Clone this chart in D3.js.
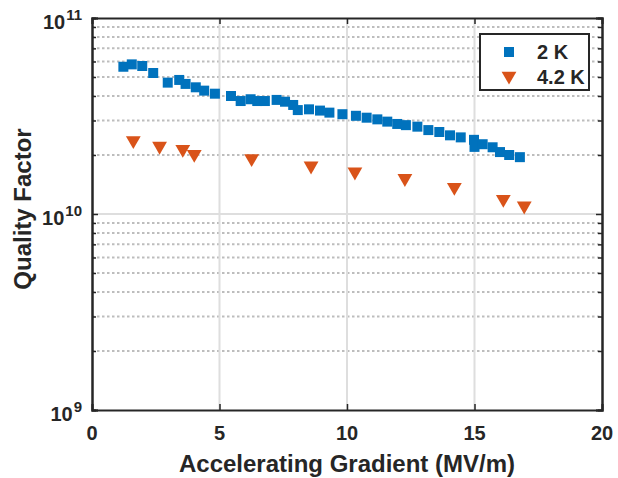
<html>
<head>
<script src="https://cdn.jsdelivr.net/npm/d3@7"></script>
<style>
  body { margin: 0; background: #fff; }
  svg text { font-family: "Liberation Sans", Arial, sans-serif; font-weight: bold; fill: #262626; }
</style>
</head>
<body>
<svg id="chart" width="618" height="478"></svg>
<script>
// 2 K measurements
var grad2K = [1.23, 1.56, 1.97, 2.40, 2.97, 3.42, 3.67, 4.07, 4.40, 4.82, 5.45, 5.83, 6.22, 6.48, 6.78,
  7.24, 7.57, 7.89, 8.07, 8.51, 8.94, 9.31, 9.82, 10.35, 10.77, 11.19, 11.58, 11.97, 12.31, 12.76,
  13.19, 13.62, 14.04, 14.46, 14.98, 15.00, 15.32, 15.71, 16.00, 16.36, 16.78];
var q2K = [5.64e10, 5.80e10, 5.69e10, 5.24e10, 4.68e10, 4.83e10, 4.61e10, 4.43e10, 4.26e10, 4.11e10, 4.00e10,
  3.77e10, 3.85e10, 3.77e10, 3.77e10, 3.82e10, 3.74e10, 3.60e10, 3.39e10, 3.42e10, 3.37e10, 3.29e10,
  3.23e10, 3.17e10, 3.10e10, 3.04e10, 2.96e10, 2.88e10, 2.84e10, 2.79e10, 2.68e10, 2.62e10, 2.52e10,
  2.46e10, 2.39e10, 2.20e10, 2.27e10, 2.19e10, 2.07e10, 2.00e10, 1.95e10];
// 4.2 K measurements
var grad42K = [1.62, 2.65, 3.56, 4.01, 6.26, 8.59, 10.31, 12.27, 14.21, 16.13, 16.95];
var q42K = [2.37e10, 2.22e10, 2.14e10, 2.02e10, 1.92e10, 1.76e10, 1.64e10, 1.52e10, 1.37e10, 1.19e10, 1.10e10];

var xTicks = [0, 5, 10, 15, 20];
var yTicks = [1e9, 1e10, 1e11];
var yExp = ["9", "10", "11"];
var seriesNames = ["2 K", "4.2 K"];

var svg = d3.select("#chart");
var pL = 92, pR = 602, pT = 18, pB = 410;
var blue = "#0072BD", orange = "#D95319", ink = "#262626";

var x = d3.scaleLinear().domain([0, 20]).range([pL, pR]);
var y = d3.scaleLog().domain([1e9, 1e11]).range([pB, pT]);

// minor values for log axis
var minors = [];
[1e9, 1e10].forEach(function(d) {
  for (var k = 2; k <= 9; k++) minors.push(d * k);
});

var grid = svg.append("g");
grid.selectAll(".ymin").data(minors).enter().append("line")
  .attr("x1", pL).attr("x2", pR)
  .attr("y1", function(d) { return y(d); }).attr("y2", function(d) { return y(d); })
  .attr("stroke", "#bdbdbd").attr("stroke-width", 2).attr("stroke-dasharray", "2.5,2.5");
grid.selectAll(".ymaj").data([1e10]).enter().append("line")
  .attr("x1", pL).attr("x2", pR)
  .attr("y1", function(d) { return y(d); }).attr("y2", function(d) { return y(d); })
  .attr("stroke", "#dedede").attr("stroke-width", 2);
grid.selectAll(".xmaj").data([5, 10, 15]).enter().append("line")
  .attr("y1", pT).attr("y2", pB)
  .attr("x1", function(d) { return x(d); }).attr("x2", function(d) { return x(d); })
  .attr("stroke", "#dedede").attr("stroke-width", 2);

// axes with inner ticks
var axB = svg.append("g").attr("transform", "translate(0," + pB + ")")
  .call(d3.axisBottom(x).tickValues(xTicks).tickSize(-6).tickFormat(""));
var axT = svg.append("g").attr("transform", "translate(0," + pT + ")")
  .call(d3.axisTop(x).tickValues(xTicks).tickSize(-6).tickFormat(""));
var axL = svg.append("g").attr("transform", "translate(" + pL + ",0)")
  .call(d3.axisLeft(y).tickValues(yTicks).tickSize(-6).tickFormat(""));
var axR = svg.append("g").attr("transform", "translate(" + pR + ",0)")
  .call(d3.axisRight(y).tickValues(yTicks).tickSize(-6).tickFormat(""));
var axLm = svg.append("g").attr("transform", "translate(" + pL + ",0)")
  .call(d3.axisLeft(y).tickValues(minors).tickSize(-4).tickFormat(""));
var axRm = svg.append("g").attr("transform", "translate(" + pR + ",0)")
  .call(d3.axisRight(y).tickValues(minors).tickSize(-4).tickFormat(""));
[axB, axT, axL, axR, axLm, axRm].forEach(function(a) {
  a.selectAll("path").attr("stroke", ink).attr("stroke-width", 2);
  a.selectAll("line").attr("stroke", ink).attr("stroke-width", 1.5);
});

// tick labels
svg.selectAll(".xl").data(xTicks).enter().append("text")
  .attr("x", function(d) { return x(d); }).attr("y", 440)
  .attr("text-anchor", "middle").attr("font-size", 20)
  .text(function(d) { return d; });
var yl = svg.selectAll(".yl").data(yTicks).enter().append("text")
  .attr("x", 82).attr("y", function(d) { return y(d) + 11; })
  .attr("text-anchor", "end").attr("font-size", 20);
yl.append("tspan").text("10");
yl.append("tspan").attr("dy", -9).attr("dx", 1).attr("font-size", 15)
  .text(function(d, i) { return yExp[i]; });

// axis titles
svg.append("text").attr("x", (pL + pR) / 2).attr("y", 472)
  .attr("text-anchor", "middle").attr("font-size", 24)
  .text("Accelerating Gradient (MV/m)");
svg.append("text").attr("transform", "translate(31,209) rotate(-90)")
  .attr("text-anchor", "middle").attr("font-size", 24)
  .text("Quality Factor");

// markers
var sq = d3.symbol().type(d3.symbolSquare).size(100);
var tri = d3.symbol().type(d3.symbolTriangle).size(95);
svg.append("g").selectAll("path").data(grad2K).enter().append("path")
  .attr("d", sq)
  .attr("transform", function(d, i) { return "translate(" + x(d) + "," + y(q2K[i]) + ")"; })
  .attr("fill", blue);
svg.append("g").selectAll("path").data(grad42K).enter().append("path")
  .attr("d", tri)
  .attr("transform", function(d, i) { return "translate(" + x(d) + "," + y(q42K[i]) + ") rotate(180)"; })
  .attr("fill", orange);

// legend
var lg = svg.append("g");
lg.append("rect").attr("x", 480).attr("y", 34).attr("width", 109).attr("height", 56)
  .attr("fill", "#fff").attr("stroke", ink).attr("stroke-width", 2);
lg.append("path").attr("d", sq).attr("transform", "translate(509,52)").attr("fill", blue);
lg.append("path").attr("d", tri).attr("transform", "translate(509,76) rotate(180)").attr("fill", orange);
lg.selectAll(".lt").data(seriesNames).enter().append("text")
  .attr("x", 537).attr("y", function(d, i) { return 59 + i * 25; })
  .attr("font-size", 20).text(function(d) { return d; });
</script>
</body>
</html>
